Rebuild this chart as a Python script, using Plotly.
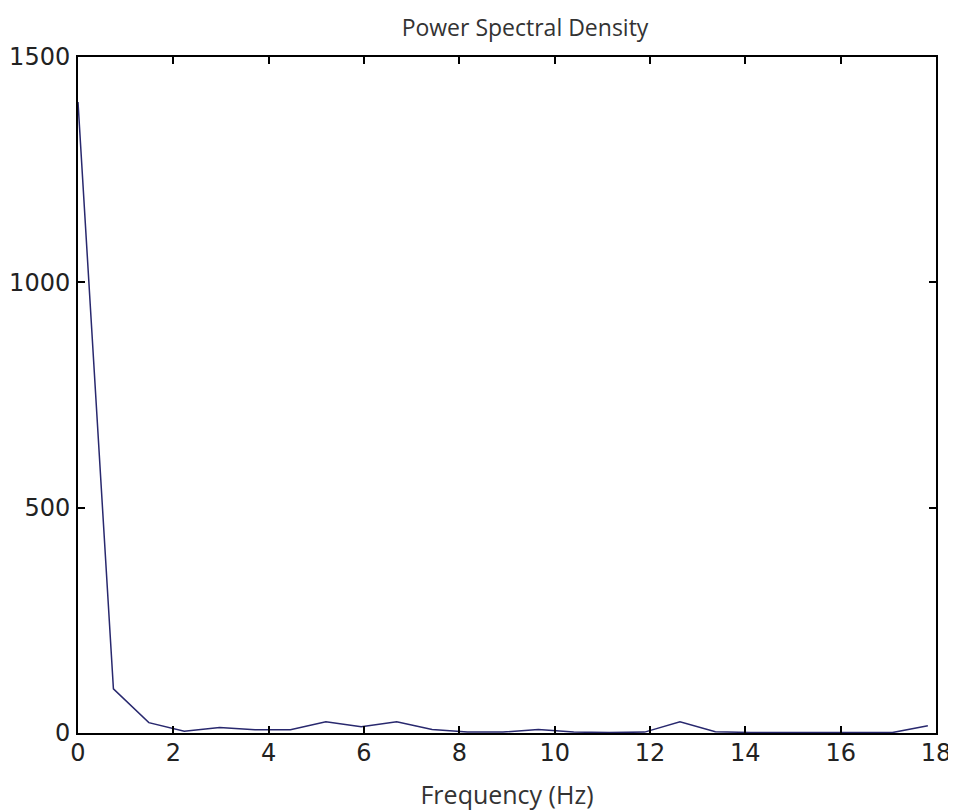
import plotly.graph_objects as go

# Data
freq_hz = [0.000, 0.743, 1.486, 2.229, 2.971, 3.714, 4.457, 5.200, 5.943, 6.686,
           7.429, 8.171, 8.914, 9.657, 10.400, 11.143, 11.886, 12.629, 13.371,
           14.114, 14.857, 15.600, 16.343, 17.086, 17.829]
psd = [1400, 98, 23, 4, 12, 7, 7, 25, 14, 25,
       8, 2, 2, 8, 2, 1, 2, 25, 3,
       1, 1, 1, 1, 1, 16]

x_ticks = [0, 2, 4, 6, 8, 10, 12, 14, 16, 18]
y_ticks = [0, 500, 1000, 1500]

# The page body adds an 8px offset; figure size/margins compensate for it.
FIG_W, FIG_H = 948, 803

fig = go.Figure()
fig.add_trace(go.Scatter(
    x=freq_hz, y=psd, mode="lines",
    line=dict(color="#28286e", width=1.5),
    showlegend=False, hoverinfo="skip",
))

axis_common = dict(
    automargin=False,
    showline=True, linecolor="black", linewidth=2, mirror="ticks",
    ticks="inside", ticklen=7, tickwidth=2, tickcolor="black",
    showgrid=False, zeroline=False,
    tickfont=dict(family="DejaVu Sans", size=24, color="#222222"),
)

fig.update_layout(
    template="none",
    width=FIG_W, height=FIG_H,
    margin=dict(l=70, r=20, t=49, b=78, autoexpand=False),
    paper_bgcolor="white", plot_bgcolor="white",
    title=dict(text="Power Spectral Density", xref="paper", x=0.521,
               xanchor="center", yref="container", y=1 - 20 / FIG_H,
               yanchor="middle",
               font=dict(family="Open Sans", size=23, color="#333333")),
    xaxis=dict(range=[0, 18], tickvals=x_ticks, ticklabelstandoff=-3,
               ticklabeloverflow="allow",
               title=dict(text="Frequency (Hz)", standoff=26,
                          font=dict(family="Open Sans", size=25, color="#333333")),
               **axis_common),
    yaxis=dict(range=[0, 1500], tickvals=y_ticks, ticklabelstandoff=1,
               ticklabeloverflow="allow",
               **axis_common),
)

fig.write_html("out.html")
